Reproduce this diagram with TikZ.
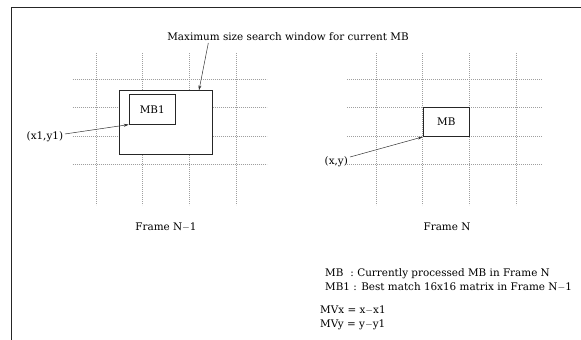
\documentclass[tikz,border=0pt]{standalone}
\usepackage{fontspec}
\setmainfont{DejaVu Serif}
\usetikzlibrary{arrows.meta}
\begin{document}
\begin{tikzpicture}[x=1pt,y=-1pt,
  grid/.style={gray!75, dash pattern=on 0.6pt off 1.4pt, line width=0.5pt},
  box/.style={draw=black!85, line width=0.6pt},
  lbl/.style={inner sep=0pt, font=\fontsize{10.4}{12}\selectfont},
  arr/.style={-{Stealth[length=5pt,width=3pt]}, line width=0.5pt, black!80}]
\useasboundingbox (0,0) rectangle (581,340);
% frame border
\draw[line width=1.6pt, black!85] (11.5,340) -- (11.5,7.5) -- (581,7.5);
% left grid
\foreach \x in {96,142.7,189.3,236} \draw[grid] (\x,53) -- (\x,205);
\foreach \y in {79,107.7,136.3,164.7} \draw[grid] (72.7,\y) -- (266.7,\y);
% right grid
\foreach \x in {376,422.7,469.3,516} \draw[grid] (\x,53) -- (\x,205);
\foreach \y in {79,107.7,136.3,164.7} \draw[grid] (347,\y) -- (541.7,\y);
% boxes
\node[box, fill=white, minimum width=93pt, minimum height=63.7pt, anchor=north west, inner sep=0pt] (win) at (119.3,90.3) {};
\node[box, fill=white, minimum width=46.6pt, minimum height=29.7pt, anchor=north west, inner sep=0pt, lbl] (mb1) at (128.7,94.3) {MB1};
\node[box, fill=white, minimum width=46.6pt, minimum height=29pt, anchor=north west, inner sep=0pt, lbl] (mb) at (422.7,107.3) {MB};
% labels
\node[lbl] (title) at (288,37) {Maximum size search window for current MB};
\node[lbl, anchor=west] (p1) at (26.5,137) {(x1,y1)};
\node[lbl, anchor=west] (p) at (324.5,161.5) {(x,y)};
\node[lbl] (fn1) at (166,226.7) {Frame N$-$1};
\node[lbl] (fn) at (447,226.7) {Frame N};
\node[lbl, anchor=west] (l1) at (325,273.3) {MB\hspace{7pt}: Currently processed MB in Frame N};
\node[lbl, anchor=west] (l2) at (325,286.7) {MB1 : Best match 16x16 matrix in Frame N$-$1};
\node[lbl, anchor=west] (e1) at (320,310) {MVx = x$-$x1};
\node[lbl, anchor=west] (e2) at (320,325) {MVy = y$-$y1};
% arrows
\coordinate (t0) at (208.3,43);
\draw[arr] (t0) -- (win.north -| 199,0);
\draw[arr] (p1.east) ++(1.5,-3) -- (mb1.south west);
\draw[arr] (p.east) ++(2,-4.5) -- (mb.south west);
\end{tikzpicture}
\end{document}
